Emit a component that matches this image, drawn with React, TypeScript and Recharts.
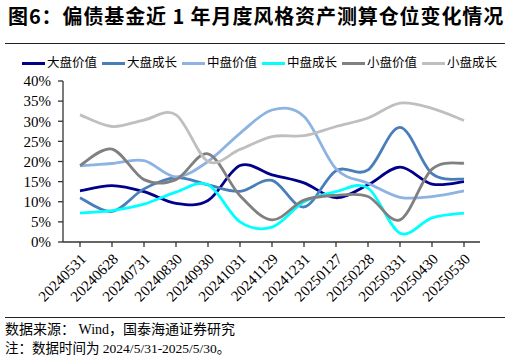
import React from 'react';
import { LineChart, Line, XAxis, YAxis } from 'recharts';

const dates = ['20240531', '20240628', '20240731', '20240830', '20240930', '20241031', '20241129', '20241231', '20250127', '20250228', '20250331', '20250430', '20250530'];
const largeValue = [12.7, 14.0, 12.5, 9.6, 10.3, 19.0, 16.7, 14.7, 11.0, 14.2, 18.6, 14.4, 15.0];
const largeGrowth = [11.0, 7.6, 13.2, 16.0, 14.2, 12.6, 15.3, 8.7, 17.7, 17.9, 28.5, 17.0, 15.6];
const midValue = [18.9, 19.5, 20.2, 16.2, 20.0, 27.0, 32.8, 31.2, 18.2, 14.6, 11.1, 11.3, 12.7];
const midGrowth = [7.2, 7.8, 9.4, 12.4, 14.2, 5.0, 3.7, 10.0, 12.5, 13.4, 2.2, 6.0, 7.2];
const smallValue = [19.0, 23.1, 15.5, 15.5, 21.9, 11.5, 5.5, 10.4, 11.6, 11.3, 5.5, 18.1, 19.6];
const smallGrowth = [31.6, 28.7, 30.3, 31.6, 20.0, 23.0, 26.2, 26.4, 28.7, 30.8, 34.5, 33.2, 30.2];

const seriesNames = ['大盘价值', '大盘成长', '中盘价值', '中盘成长', '小盘价值', '小盘成长'];
const seriesValues = [largeValue, largeGrowth, midValue, midGrowth, smallValue, smallGrowth];
const seriesColors = ['#00008B', '#4A7EBB', '#8DB3E2', '#00FFFF', '#808080', '#BFBFBF'];
const yTicks = [0, 5, 10, 15, 20, 25, 30, 35, 40];

const titleText = '图6：偏债基金近 1 年月度风格资产测算仓位变化情况';
const sourceText = '数据来源： Wind，国泰海通证券研究';
const noteText = '注：数据时间为 2024/5/31-2025/5/30。';

const data = dates.map((d, i) => {
  const row: Record<string, string | number> = { date: d };
  seriesNames.forEach((n, k) => {
    row[n] = seriesValues[k][i];
  });
  return row;
});

// Excel-like smoothed line (Catmull-Rom through points)
const smoothCurve = (context: any) => {
  let pts: number[][] = [];
  return {
    areaStart() {},
    areaEnd() {},
    lineStart() {
      pts = [];
    },
    point(x: number, y: number) {
      pts.push([+x, +y]);
    },
    lineEnd() {
      if (!pts.length) return;
      context.moveTo(pts[0][0], pts[0][1]);
      for (let i = 0; i < pts.length - 1; i++) {
        const p0 = pts[i - 1] || pts[i];
        const p1 = pts[i];
        const p2 = pts[i + 1];
        const p3 = pts[i + 2] || pts[i + 1];
        context.bezierCurveTo(
          p1[0] + (p2[0] - p0[0]) / 6,
          p1[1] + (p2[1] - p0[1]) / 6,
          p2[0] - (p3[0] - p1[0]) / 6,
          p2[1] - (p3[1] - p1[1]) / 6,
          p2[0],
          p2[1]
        );
      }
    },
  };
};

const serif = '"Liberation Serif", "Times New Roman", serif';
const cjk = '"Liberation Serif", "Noto Sans CJK SC", serif';

const XTick = (props: any) => {
  const { x, y, payload } = props;
  const ax = x + 7;
  const ay = y + 11;
  return (
    <text
      x={ax}
      y={ay}
      transform={`rotate(-45 ${ax} ${ay})`}
      textAnchor="end"
      fontSize={15}
      fontFamily={serif}
      fill="#000"
    >
      {payload.value}
    </text>
  );
};

export default function App() {
  return (
    <div style={{ position: 'absolute', left: 0, top: 0, width: 510, height: 360, background: '#fff', overflow: 'hidden' }}>
      <div
        style={{
          position: 'absolute',
          left: 8,
          top: 3,
          fontSize: 20,
          fontWeight: 700,
          fontFamily: '"Noto Sans CJK SC", sans-serif',
          color: '#000',
          whiteSpace: 'nowrap',
          lineHeight: '26px',
          letterSpacing: 0.9,
        }}
      >
        {titleText}
      </div>
      <div style={{ position: 'absolute', left: 5, top: 43, width: 500, height: 1, background: '#222' }} />

      <div
        style={{
          position: 'absolute',
          left: 22,
          top: 54,
          display: 'flex',
          alignItems: 'center',
          fontFamily: cjk,
          fontSize: 12.5,
          color: '#000',
          whiteSpace: 'nowrap',
          lineHeight: '18px',
        }}
      >
        {seriesNames.map((n, k) => (
          <div key={n} style={{ display: 'flex', alignItems: 'center', width: 80 }}>
            <div style={{ width: 23, height: 3, background: seriesColors[k], marginRight: 2 }} />
            <span>{n}</span>
          </div>
        ))}
      </div>

      <div style={{ position: 'absolute', left: 0, top: 0 }}>
        <LineChart width={510} height={320} data={data} margin={{ top: 81, right: 30, bottom: 8, left: 8 }}>
          <XAxis
            dataKey="date"
            interval={0}
            padding={{ left: 17, right: 16 }}
            tick={<XTick />}
            tickSize={5}
            height={70}
            stroke="#333"
            strokeWidth={1.3}
            tickLine={{ stroke: '#333' }}
          />
          <YAxis
            domain={[0, 40]}
            ticks={yTicks}
            interval={0}
            width={55}
            tickSize={5}
            tickMargin={7}
            tickFormatter={(v: number) => `${v}%`}
            tick={{ fontSize: 15, fontFamily: serif, fill: '#000' }}
            stroke="#333"
            strokeWidth={1.3}
            allowDataOverflow
          />
          {seriesNames.map((n, k) => (
            <Line
              key={n}
              dataKey={n}
              type={smoothCurve as any}
              stroke={seriesColors[k]}
              strokeWidth={2.8}
              dot={false}
              activeDot={false}
              isAnimationActive={false}
            />
          ))}
        </LineChart>
      </div>

      <div style={{ position: 'absolute', left: 5, top: 317, width: 500, height: 1, background: '#222' }} />
      <div style={{ position: 'absolute', left: 5, top: 321, fontSize: 14, fontFamily: cjk, color: '#000', whiteSpace: 'nowrap', lineHeight: '18px' }}>
        {sourceText}
      </div>
      <div style={{ position: 'absolute', left: 5, top: 340, fontSize: 13.5, fontFamily: cjk, color: '#000', whiteSpace: 'nowrap', lineHeight: '18px' }}>
        {noteText}
      </div>
    </div>
  );
}
